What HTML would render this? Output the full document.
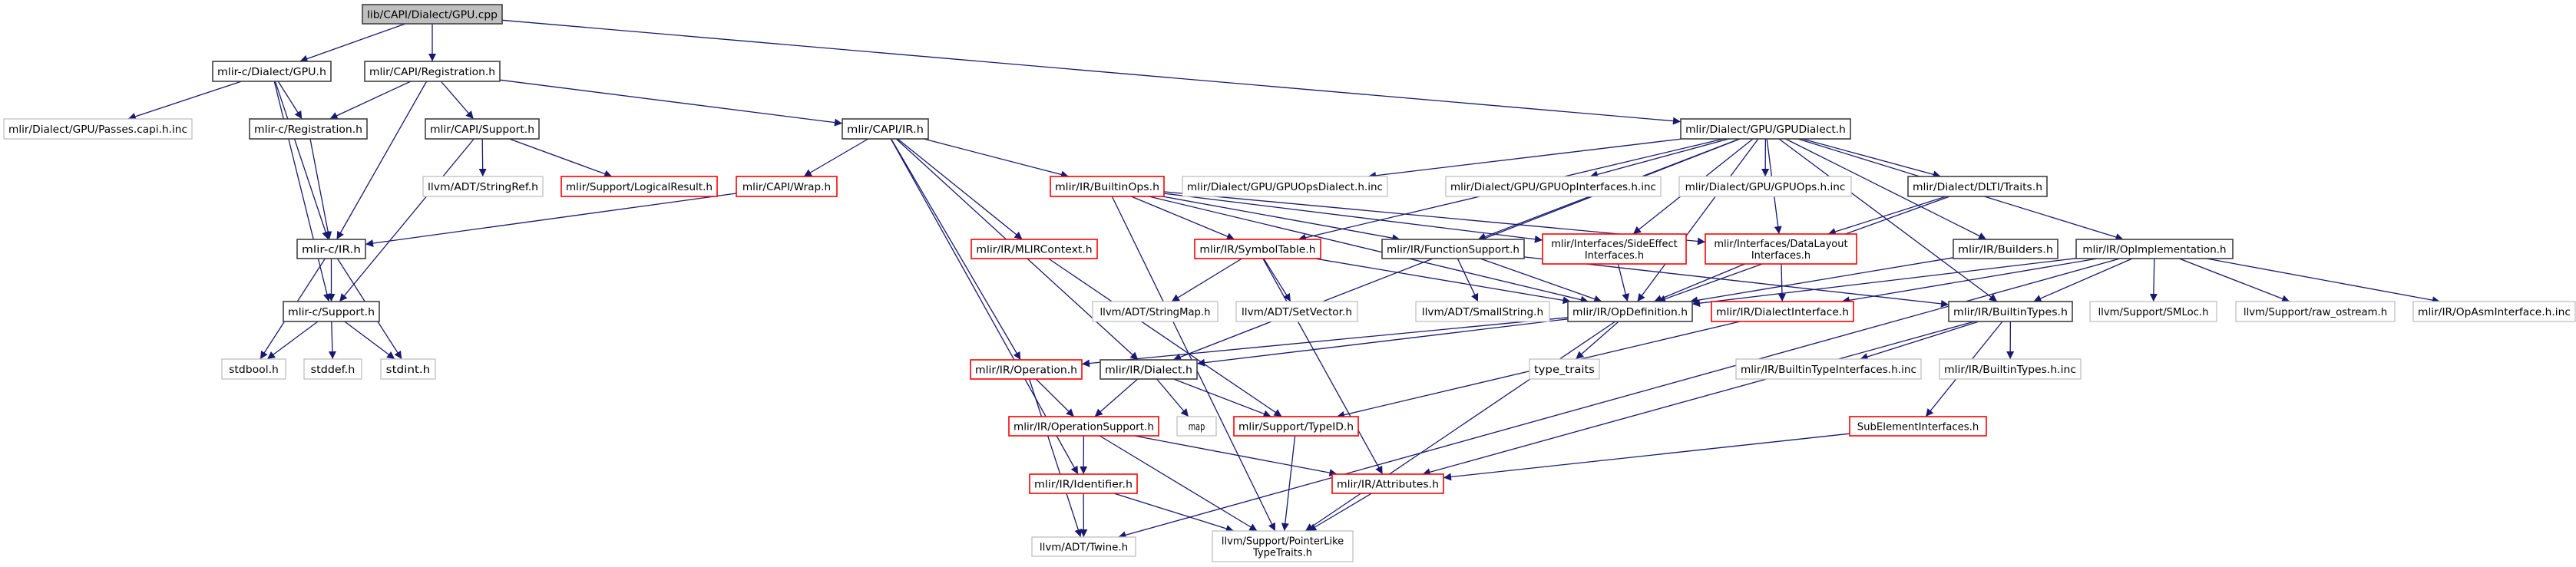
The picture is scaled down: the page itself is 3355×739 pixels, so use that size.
<!DOCTYPE html>
<html><head><meta charset="utf-8"><title>GPU.cpp include graph</title>
<style>
html,body{margin:0;padding:0;background:#fff;}
svg{display:block;}
text{font-family:"DejaVu Sans","Liberation Sans",sans-serif;font-size:13px;fill:#000;}
</style></head>
<body>
<svg id="g" width="3355" height="739" viewBox="0 0 3355 739" xmlns="http://www.w3.org/2000/svg">
<defs>
<marker id="arr" viewBox="0 0 10 10" refX="10" refY="5" markerWidth="12" markerHeight="10" markerUnits="userSpaceOnUse" orient="auto">
<path d="M0,0 L10,5 L0,10 z" fill="#191970"/>
</marker>
</defs>
<g id="edges"></g>
<g id="nodes"></g>
</svg>
<script>
const nodeIds = ["cpp","cgpu","capireg","passes","creg","capisup","strref","logres","cir","csup","stdbool","stddef","stdint",
"capiir","wrap","bops","opsdinc","mlirctx","symtab","strmap","setvec","operation","dialect","opsupport","map","typeid","ident","twine","ptrlike",
"gpud","opifinc","opsinc","dlti","funcsup","sideeff","datalayout","smallstr","opdef","dialif","typetraits","btifinc","subel","attrs",
"builders","opimpl","btypes","smloc","rawos","opasm","btinc"];
const nodeLabels = [["lib/CAPI/Dialect/GPU.cpp"],["mlir-c/Dialect/GPU.h"],["mlir/CAPI/Registration.h"],["mlir/Dialect/GPU/Passes.capi.h.inc"],["mlir-c/Registration.h"],["mlir/CAPI/Support.h"],["llvm/ADT/StringRef.h"],["mlir/Support/LogicalResult.h"],["mlir-c/IR.h"],["mlir-c/Support.h"],["stdbool.h"],["stddef.h"],["stdint.h"],
["mlir/CAPI/IR.h"],["mlir/CAPI/Wrap.h"],["mlir/IR/BuiltinOps.h"],["mlir/Dialect/GPU/GPUOpsDialect.h.inc"],["mlir/IR/MLIRContext.h"],["mlir/IR/SymbolTable.h"],["llvm/ADT/StringMap.h"],["llvm/ADT/SetVector.h"],["mlir/IR/Operation.h"],["mlir/IR/Dialect.h"],["mlir/IR/OperationSupport.h"],["map"],["mlir/Support/TypeID.h"],["mlir/IR/Identifier.h"],["llvm/ADT/Twine.h"],["llvm/Support/PointerLike","TypeTraits.h"],
["mlir/Dialect/GPU/GPUDialect.h"],["mlir/Dialect/GPU/GPUOpInterfaces.h.inc"],["mlir/Dialect/GPU/GPUOps.h.inc"],["mlir/Dialect/DLTI/Traits.h"],["mlir/IR/FunctionSupport.h"],["mlir/Interfaces/SideEffect","Interfaces.h"],["mlir/Interfaces/DataLayout","Interfaces.h"],["llvm/ADT/SmallString.h"],["mlir/IR/OpDefinition.h"],["mlir/IR/DialectInterface.h"],["type_traits"],["mlir/IR/BuiltinTypeInterfaces.h.inc"],["SubElementInterfaces.h"],["mlir/IR/Attributes.h"],
["mlir/IR/Builders.h"],["mlir/IR/OpImplementation.h"],["mlir/IR/BuiltinTypes.h"],["llvm/Support/SMLoc.h"],["llvm/Support/raw_ostream.h"],["mlir/IR/OpAsmInterface.h.inc"],["mlir/IR/BuiltinTypes.h.inc"]];
const nodeX1 = [472,277,475,5,325,554,551,731,387,369,289,396,496, 1097,959,1368,1540,1265,1556,1423,1610,1264,1433,1314,1533,1607,1341,1344,1579, 2189,1883,2187,2485,1800,2009,2221,1844,2042,2229,1992,2261,2409,1735, 2544,2704,2538,2722,2912,3143,2526];
const nodeX2 = [654,431,651,250,478,702,707,934,476,494,372,471,567, 1209,1090,1516,1807,1429,1720,1586,1768,1409,1559,1509,1584,1769,1481,1479,1762, 2410,2163,2411,2666,1985,2196,2418,2018,2204,2414,2083,2502,2587,1880, 2680,2908,2699,2887,3119,3354,2710];
const nodeY1 = [6,80,80,155,155,155,230,230,312,393,468,468,468, 155,230,230,230,312,312,393,393,469,469,543,543,543,618,700,692, 155,230,230,230,312,305,305,393,393,393,468,468,543,618, 312,312,393,393,393,393,468];
const nodeY2 = [31,106,106,181,181,181,256,256,337,419,494,494,494, 181,256,256,256,337,337,419,419,494,494,568,568,568,643,725,732, 181,256,256,256,337,344,344,419,419,419,494,494,568,643, 337,337,419,419,419,419,494];
const nodeStyle = ["root","black","black","gray","black","black","gray","red","black","black","gray","gray","gray",
"black","red","red","gray","red","red","gray","gray","red","black","red","gray","red","red","gray","gray",
"black","gray","gray","black","black","red","red","gray","black","red","gray","gray","red","red",
"black","black","black","gray","gray","gray","gray"];
const edgeFrom = ["cpp","cpp","cpp","cgpu","cgpu","cgpu","cgpu","capireg","capireg","capireg","capireg","creg","capisup","capisup","capisup","wrap","cir","cir","cir","csup","csup","csup",
"capiir","capiir","capiir","capiir","capiir","capiir","bops","bops","bops","bops","bops","bops","mlirctx","symtab","symtab","symtab","symtab",
"gpud","gpud","gpud","gpud","gpud","gpud","gpud","gpud","gpud","gpud","gpud","gpud","gpud","dlti","dlti","funcsup","funcsup","funcsup","sideeff","datalayout","datalayout","builders",
"opimpl","opimpl","opimpl","opimpl","opimpl","opimpl","opimpl","opdef","opdef","opdef","opdef","dialif","btypes","btypes","btypes","btypes","subel",
"operation","operation","dialect","dialect","dialect","opsupport","opsupport","opsupport","ident","ident","typeid","attrs"];
const edgeTo = ["cgpu","capireg","gpud","passes","creg","cir","csup","creg","cir","capisup","capiir","cir","csup","strref","logres","cir","csup","stdbool","stdint","stdbool","stddef","stdint",
"wrap","operation","ident","mlirctx","bops","dialect","symtab","funcsup","sideeff","datalayout","ptrlike","opdef","typeid","strmap","setvec","opdef","attrs",
"opsdinc","opifinc","opsinc","dlti","funcsup","sideeff","datalayout","builders","opimpl","btypes","dialect","symtab","opdef","datalayout","opdef","smallstr","opdef","btypes","opdef","opdef","dialif","opdef",
"opdef","dialif","btypes","smloc","rawos","opasm","twine","typetraits","operation","dialect","ptrlike","typeid","btifinc","btinc","subel","attrs","attrs",
"opsupport","twine","opsupport","map","typeid","ident","ptrlike","attrs","twine","ptrlike","ptrlike","ptrlike"];

const NS = "http://www.w3.org/2000/svg";
const edgesG = document.getElementById("edges");
const nodesG = document.getElementById("nodes");
function idx(id){ return nodeIds.indexOf(id); }
// clip the ray from centre (cx,cy) in direction (dx,dy) to the box boundary
function clip(i, dx, dy) {
  const cx = (nodeX1[i] + nodeX2[i]) / 2, cy = (nodeY1[i] + nodeY2[i]) / 2;
  const hw = (nodeX2[i] - nodeX1[i]) / 2, hh = (nodeY2[i] - nodeY1[i]) / 2;
  const tx = dx !== 0 ? hw / Math.abs(dx) : Infinity;
  const ty = dy !== 0 ? hh / Math.abs(dy) : Infinity;
  const t = Math.min(tx, ty);
  return [cx + dx * t, cy + dy * t];
}

for (let k = 0; k < edgeFrom.length; k++) {
  const a = idx(edgeFrom[k]), b = idx(edgeTo[k]);
  const acx = (nodeX1[a] + nodeX2[a]) / 2, acy = (nodeY1[a] + nodeY2[a]) / 2;
  const bcx = (nodeX1[b] + nodeX2[b]) / 2, bcy = (nodeY1[b] + nodeY2[b]) / 2;
  const dx = bcx - acx, dy = bcy - acy;
  const s = clip(a, dx, dy), t = clip(b, -dx, -dy);
  const p = document.createElementNS(NS, "path");
  p.setAttribute("d", "M" + s[0].toFixed(1) + "," + s[1].toFixed(1) + " L" + t[0].toFixed(1) + "," + t[1].toFixed(1));
  p.setAttribute("fill", "none");
  p.setAttribute("stroke", "#191970");
  p.setAttribute("stroke-width", "1.3");
  p.setAttribute("marker-end", "url(#arr)");
  
  
  edgesG.appendChild(p);
}

for (let i = 0; i < nodeIds.length; i++) {
  const g = document.createElementNS(NS, "g");
  
  
  const r = document.createElementNS(NS, "rect");
  r.setAttribute("x", nodeX1[i]); r.setAttribute("y", nodeY1[i]);
  r.setAttribute("width", nodeX2[i] - nodeX1[i]); r.setAttribute("height", nodeY2[i] - nodeY1[i]);
  const st = nodeStyle[i];
  r.setAttribute("fill", st === "root" ? "#bfbfbf" : "#ffffff");
  r.setAttribute("stroke", st === "red" ? "#ff0000" : st === "gray" ? "#bfbfbf" : "#404040");
  r.setAttribute("stroke-width", st === "gray" ? "1.3" : "1.6");
  
  
  g.appendChild(r);
  const lines = nodeLabels[i];
  const cx = (nodeX1[i] + nodeX2[i]) / 2;
  const cy = (nodeY1[i] + nodeY2[i]) / 2;
  for (let j = 0; j < lines.length; j++) {
    const t = document.createElementNS(NS, "text");
    t.setAttribute("x", cx);
    t.setAttribute("y", cy + 5 + (j - (lines.length - 1) / 2) * 15);
    t.setAttribute("text-anchor", "middle");
    const est = lines[j].length * 7.2;
    const maxw = nodeX2[i] - nodeX1[i] - 12;
    if (lines.length === 1) { t.setAttribute("textLength", Math.min(est, maxw)); t.setAttribute("lengthAdjust", "spacingAndGlyphs"); }
    t.textContent = lines[j];
    
    
    g.appendChild(t);
  }
  nodesG.appendChild(g);
}
</script>
</body></html>
